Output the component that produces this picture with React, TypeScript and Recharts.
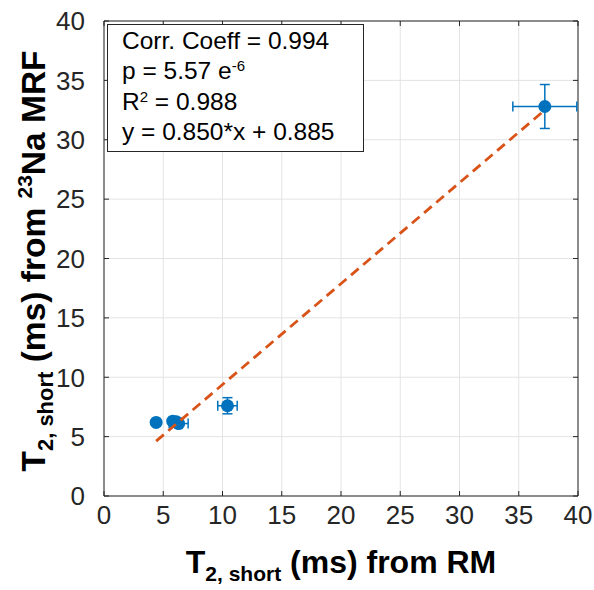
import { ScatterChart, Scatter, XAxis, YAxis, CartesianGrid, ErrorBar, ReferenceLine, Label } from 'recharts';

const xValues = [4.4, 5.8, 6.1, 6.3, 10.42, 37.2];
const yValues = [6.2, 6.3, 6.25, 6.1, 7.6, 32.8];
const xErrors = [0.05, 0.05, 0.15, 0.8, 0.82, 2.7];
const yErrors = [0.05, 0.05, 0.15, 0.2, 0.68, 1.85];

const ticks = [0, 5, 10, 15, 20, 25, 30, 35, 40];

const fitSlope = 0.85;
const fitIntercept = 0.885;
const fitX = [4.4, 37.2];

const statsLines = ['Corr. Coeff = 0.994', 'p = 5.57 e', 'R', 'y = 0.850*x + 0.885'];

const points = xValues.map((x, i) => ({ x, y: yValues[i], xErr: xErrors[i], yErr: yErrors[i] }));
const fitData = fitX.map((x) => ({ x, y: fitSlope * x + fitIntercept }));

const W = 594;
const H = 590;
const PLOT_TOP = 21;
const PLOT_LEFT = 104;
const PLOT_BOTTOM = 496;
const PLOT_RIGHT = 578;
const FONT = '"Liberation Sans", Arial, Helvetica, sans-serif';
const BLUE = '#0072BD';
const AXIS = '#262626';

const XTick = (props: any) => {
  const { x, y, payload } = props;
  return (
    <g>
      <line x1={x} x2={x} y1={PLOT_BOTTOM} y2={PLOT_BOTTOM - 5} stroke={AXIS} />
      <line x1={x} x2={x} y1={PLOT_TOP} y2={PLOT_TOP + 5} stroke={AXIS} />
      <text x={x} y={y} dy="0.71em" textAnchor="middle" fontSize={26} fontFamily={FONT} fill={AXIS}>
        {payload.value}
      </text>
    </g>
  );
};

const YTick = (props: any) => {
  const { x, y, payload } = props;
  return (
    <g>
      <line x1={PLOT_LEFT} x2={PLOT_LEFT + 5} y1={y} y2={y} stroke={AXIS} />
      <line x1={PLOT_RIGHT} x2={PLOT_RIGHT - 5} y1={y} y2={y} stroke={AXIS} />
      <text x={x} y={y} dy="0.36em" textAnchor="end" fontSize={26} fontFamily={FONT} fill={AXIS}>
        {payload.value}
      </text>
    </g>
  );
};

const XTitle = () => (
  <text x={(PLOT_LEFT + PLOT_RIGHT) / 2} y={573} textAnchor="middle" fontFamily={FONT} fontWeight="bold" fontSize={32} fill="#000">
    <tspan>T</tspan>
    <tspan fontSize={21} dy={8}>2, short</tspan>
    <tspan dy={-8}> (ms) from RM</tspan>
  </text>
);

const YTitle = () => {
  const cx = 45;
  const cy = 261;
  return (
    <text x={cx} y={cy} transform={`rotate(-90 ${cx} ${cy})`} textAnchor="middle" fontFamily={FONT} fontWeight="bold" fontSize={33.5} fill="#000">
      <tspan>T</tspan>
      <tspan fontSize={22} dy={8}>2, short</tspan>
      <tspan dy={-8}> (ms) from </tspan>
      <tspan fontSize={21} dy={-13}>23</tspan>
      <tspan dy={13}>Na MRF</tspan>
    </text>
  );
};

const Dot = (props: any) => <circle cx={props.cx} cy={props.cy} r={6.5} fill={BLUE} />;

export default function App() {
  return (
    <div style={{ position: 'absolute', left: 0, top: 0, width: W, height: H, background: '#fff' }}>
      <ScatterChart width={W} height={H} margin={{ top: PLOT_TOP, right: W - PLOT_RIGHT, left: 0, bottom: 0 }}>
        <CartesianGrid stroke="#e3e3e3" />
        <XAxis
          type="number"
          dataKey="x"
          domain={[0, 40]}
          ticks={ticks}
          interval={0}
          height={H - PLOT_BOTTOM}
          tickSize={0}
          tickMargin={10}
          tickLine={false}
          tick={<XTick />}
          axisLine={{ stroke: AXIS }}
        >
          <Label content={<XTitle />} />
        </XAxis>
        <YAxis
          type="number"
          dataKey="y"
          domain={[0, 40]}
          ticks={ticks}
          interval={0}
          width={PLOT_LEFT}
          tickSize={0}
          tickMargin={19}
          tickLine={false}
          tick={<YTick />}
          axisLine={{ stroke: AXIS }}
        >
          <Label content={<YTitle />} />
        </YAxis>
        <ReferenceLine x={40} stroke={AXIS} />
        <ReferenceLine y={40} stroke={AXIS} />
        <Scatter data={points} shape={<Dot />} isAnimationActive={false}>
          <ErrorBar dataKey="xErr" direction="x" stroke={BLUE} strokeWidth={1.5} width={5} />
          <ErrorBar dataKey="yErr" direction="y" stroke={BLUE} strokeWidth={1.5} width={5} />
        </Scatter>
        <Scatter
          data={fitData}
          line={{ stroke: '#D95319', strokeWidth: 2.8, strokeDasharray: '10 6' }}
          shape={() => <g />}
          isAnimationActive={false}
        />
      </ScatterChart>
      <div
        style={{
          position: 'absolute',
          left: 107,
          top: 24,
          width: 257,
          height: 128,
          border: '1px solid #262626',
          background: '#fff',
          fontFamily: FONT,
          fontSize: 24.5,
          lineHeight: '30.3px',
          paddingLeft: 14,
          paddingTop: 1,
          boxSizing: 'border-box',
          color: '#000',
          whiteSpace: 'nowrap',
        }}
      >
        <div>{statsLines[0]}</div>
        <div>
          {statsLines[1]}
          <sup style={{ fontSize: 15, verticalAlign: 'top', lineHeight: '15px', position: 'relative', top: 2 }}>-6</sup>
        </div>
        <div>
          {statsLines[2]}
          <sup style={{ fontSize: 15, verticalAlign: 'top', lineHeight: '15px', position: 'relative', top: 2 }}>2</sup>
          {' = 0.988'}
        </div>
        <div>{statsLines[3]}</div>
      </div>
    </div>
  );
}
